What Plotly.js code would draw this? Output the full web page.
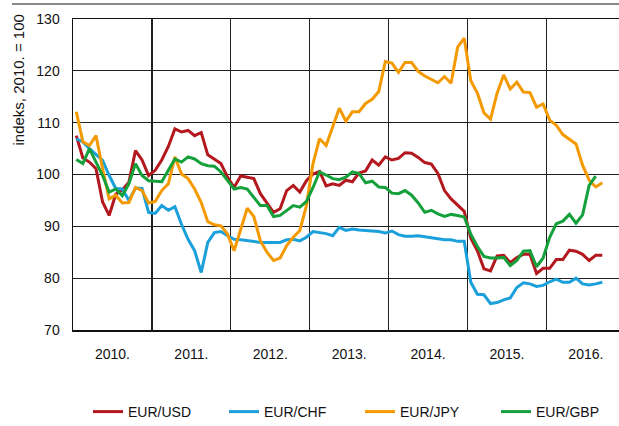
<!DOCTYPE html>
<html>
<head>
<meta charset="utf-8">
<script src="https://cdn.plot.ly/plotly-3.0.1.min.js"></script>
<style>html,body{margin:0;padding:0;background:#fff;}#chart{width:619px;height:426px;}</style>
</head>
<body>
<div id="chart"></div>
<script>
// Monthly index values, 2010 average = 100; first value = January 2010
var yearLabels = ['2010.', '2011.', '2012.', '2013.', '2014.', '2015.', '2016.'];
var seriesNames = ['EUR/USD', 'EUR/CHF', 'EUR/JPY', 'EUR/GBP'];

var eurUsd = [107.5,103.2,102.4,101.1,94.7,92.1,96.2,97.0,98.5,104.6,102.8,99.8,
  100.8,102.8,105.4,108.8,108.2,108.5,107.5,108.1,103.8,103.0,102.1,99.5,
  97.5,99.7,99.5,99.2,96.3,94.6,92.7,93.4,96.9,97.9,96.6,98.8,
  100.1,100.6,97.8,98.2,97.9,98.9,98.6,100.3,100.7,102.8,101.8,103.4,
  102.8,103.1,104.2,104.1,103.3,102.3,102.0,100.2,96.9,95.3,94.0,92.9,
  87.7,85.3,81.8,81.4,84.3,84.4,83.0,84.0,84.6,84.6,80.9,81.9,
  81.9,83.6,83.6,85.4,85.2,84.6,83.4,84.4,84.4];

var eurChf = [106.9,106.3,105.0,103.8,102.7,99.8,97.3,97.2,95.0,97.4,97.3,92.7,
  92.5,94.0,93.1,93.8,90.4,87.5,85.3,81.1,86.9,88.8,89.0,88.2,
  87.5,87.4,87.2,87.0,86.9,86.9,86.9,86.9,87.4,87.5,87.2,87.9,
  89.0,88.8,88.6,88.2,89.8,89.2,89.5,89.3,89.2,89.1,89.0,88.7,
  89.1,88.4,88.1,88.1,88.2,88.0,87.8,87.6,87.4,87.4,87.1,87.1,
  79.2,76.9,76.8,75.1,75.3,75.8,76.2,78.2,79.1,78.9,78.4,78.6,
  79.3,79.8,79.2,79.2,80.0,78.9,78.7,78.9,79.2];

var eurJpy = [112.1,106.3,105.6,107.5,101.1,95.3,96.0,94.5,94.6,97.5,96.9,94.5,
  94.8,96.9,98.2,103.4,100.1,99.2,97.2,94.6,90.9,90.3,90.1,88.5,
  85.3,89.5,93.5,91.9,87.2,85.0,83.4,83.9,86.3,87.9,89.2,94.0,
  102.1,106.9,105.6,109.2,112.8,110.3,112.1,112.1,113.7,114.5,116.0,121.8,
  121.5,119.7,121.6,121.6,119.9,119.0,118.3,117.7,118.9,117.6,124.6,126.3,
  118.1,115.7,111.9,110.7,115.7,119.2,116.5,117.8,115.9,115.8,113.0,113.6,
  110.5,109.5,107.7,106.8,105.9,101.8,98.9,97.6,98.4];

var eurGbp = [102.9,102.1,105.0,102.4,99.8,96.6,97.2,95.9,98.2,102.1,99.8,98.8,
  98.7,98.6,100.8,103.0,102.4,103.4,103.0,102.1,101.7,101.6,100.5,98.8,
  97.2,97.5,97.2,95.6,94.0,94.0,91.9,92.1,93.0,94.0,93.7,94.8,
  97.5,100.5,99.9,99.2,99.0,99.5,100.5,100.2,98.4,98.7,97.6,97.5,
  96.4,96.3,96.9,96.0,94.5,92.7,93.1,92.4,91.9,92.3,92.1,91.8,
  88.5,86.1,84.2,83.9,83.9,84.0,82.4,83.4,85.2,85.3,82.2,83.9,
  87.9,90.5,91.0,92.3,90.6,92.2,97.9,99.7];

var colors = ['#B3181E', '#1BA0DB', '#F49A00', '#14A03A'];
var allSeries = [eurUsd, eurChf, eurJpy, eurGbp];

function monthPositions(arr) {
  return arr.map(function (v, i) { return i + 0.5; });
}

var traces = allSeries.map(function (s, k) {
  return {
    x: monthPositions(s),
    y: s,
    type: 'scatter',
    mode: 'lines',
    name: seriesNames[k],
    line: { color: colors[k], width: 3 }
  };
});

var yearTickVals = yearLabels.map(function (l, i) { return i * 12 + 6; });
var yearGridVals = yearLabels.map(function (l, i) { return i * 12; });

var fontFam = '"Liberation Sans Narrow", "Arial Narrow", "Liberation Sans", Arial, sans-serif';

var layout = {
  width: 619,
  height: 426,
  margin: { l: 73, r: 0, t: 19, b: 96 },
  paper_bgcolor: '#fff',
  plot_bgcolor: '#fff',
  font: { family: fontFam, size: 14, color: '#111' },
  showlegend: true,
  xaxis: {
    range: [0, 83.04],
    tickmode: 'array',
    tickvals: yearTickVals,
    ticktext: yearLabels,
    showgrid: false,
    ticks: '',
    ticklabelstandoff: 11,
    showline: true,
    linecolor: '#111',
    linewidth: 1.5,
    mirror: true,
    zeroline: false,
    fixedrange: true,
    minor: {
      tickmode: 'array',
      tickvals: yearGridVals,
      showgrid: true,
      gridcolor: '#222',
      gridwidth: 1.2,
      ticks: ''
    }
  },
  yaxis: {
    range: [70, 130],
    tickmode: 'linear',
    tick0: 70,
    dtick: 10,
    showgrid: true,
    gridcolor: '#222',
    gridwidth: 1.2,
    ticks: '',
    ticklabelstandoff: 9,
    showline: true,
    linecolor: '#111',
    linewidth: 1.5,
    zeroline: false,
    fixedrange: true
  },
  legend: {
    orientation: 'h',
    xref: 'container',
    yref: 'container',
    x: 88 / 619,
    xanchor: 'left',
    y: 1 - 412 / 426,
    yanchor: 'middle',
    entrywidth: 91,
    entrywidthmode: 'pixels',
    font: { family: fontFam, size: 14, color: '#111' },
    bgcolor: 'rgba(0,0,0,0)',
    borderwidth: 0
  },
  annotations: [{
    text: 'indeks, 2010. = 100',
    xref: 'paper', yref: 'paper',
    x: (18 - 73) / 546, y: 1 + (19 - 13) / 311,
    xanchor: 'center', yanchor: 'top',
    textangle: -90,
    showarrow: false,
    font: { family: fontFam, size: 15, color: '#111' }
  }],
  shapes: [{
    type: 'line', xref: 'paper', yref: 'paper',
    x0: (12 - 73) / 546, x1: 1, y0: 1 + (19 - 4) / 311, y1: 1 + (19 - 4) / 311,
    line: { color: '#888', width: 2 }
  }]
};

Plotly.newPlot('chart', traces, layout, { displayModeBar: false, staticPlot: true });
</script>
</body>
</html>
